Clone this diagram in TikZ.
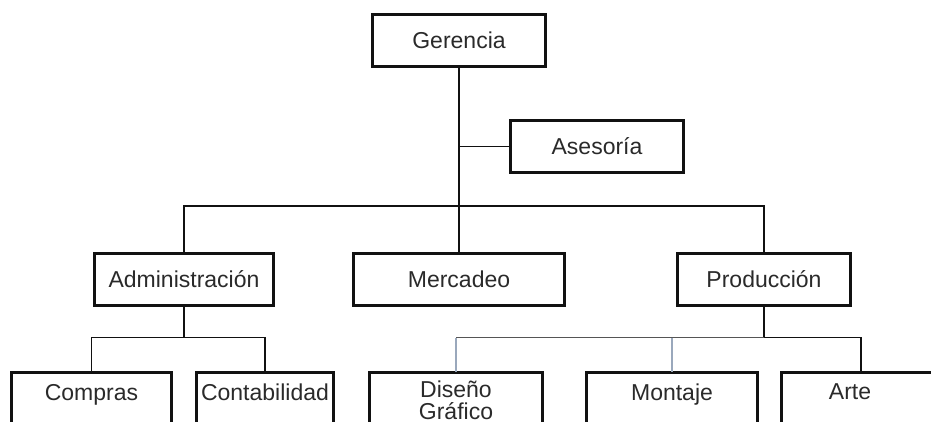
\documentclass[tikz,border=0pt]{standalone}
\usepackage{fontspec}
\setmainfont{Liberation Sans}
\usepackage{xcolor}
\usepackage{tikz}
\usetikzlibrary{positioning,calc}
\definecolor{ink}{HTML}{111111}
\definecolor{txtgray}{HTML}{2A2A2A}
\definecolor{linkgray}{HTML}{555555}
\definecolor{linkblue}{HTML}{9AA8BC}
\tikzset{
  unitbox/.style={
    rectangle, draw=ink, line width=3pt, fill=white,
    minimum width=#1, minimum height=52pt,
    outer sep=0pt, inner sep=0pt,
    font=\fontsize{23}{22}\selectfont, text=txtgray, align=center
  },
  unitbox/.default=173pt,
  lowbox/.style={unitbox=#1, minimum height=0pt, anchor=north,
    inner ysep=12pt, text depth=50pt},
  lowbox/.default=173pt,
  link/.style={draw=ink, line width=1.4pt},
  softlink/.style={draw=linkgray, line width=1.4pt},
  paleline/.style={draw=linkblue, line width=1.1pt},
}

\begin{document}
\begin{tikzpicture}[x=1pt, y=1pt]
    \useasboundingbox (0,0) rectangle (931,-421);
    \clip (0,0) rectangle (931,-421);
    \fill[white] (0,0) rectangle (931,-421);
    % first levels
    \node[unitbox] (ger) at (459,-40.5) {Gerencia};
    \node[unitbox] (ase) at (597,-146.5) {Asesoría};
    \node[unitbox=179pt] (adm) at (184,-279.5) {Administración};
    \node[unitbox=211pt] (mer) at (459,-279.5) {Mercadeo};
    \node[unitbox] (pro) at (764,-279.5) {Producción};
    \coordinate (bus) at (459,-206);
    \draw[link] (ger) -- (mer);
    \draw[link] (ase.west) -- (ase.west -| ger.south);
    \draw[link] (adm.north) |- (bus) -| (pro.north);
    % lower level
    \node[lowbox=160pt] (com) at (91.5,-372) {Compras};
    \node[lowbox=137pt] (con) at (265,-372) {Contabilidad};
    \node[lowbox, inner ysep=9pt] (dis) at (456,-372) {Diseño\\Gráfico};
    \node[lowbox=171pt] (mon) at (672,-372) {Montaje};
    \node[lowbox=160pt] (art) at (861,-372) {\hspace*{-22pt}Arte};
    \draw[link] (adm.south) -- ++(0,-32) coordinate (aj);
    \draw[link] (com.north) |- (aj) -| (con.north);
    \draw[link] (pro.south) -- ++(0,-32) coordinate (pj);
    \draw[link] (pj) -| (art.north);
    \draw[softlink] (pj) -- (pj -| dis.north);
    \draw[paleline] (pj -| dis.north) -- (dis.north);
    \draw[paleline] (pj -| mon.north) -- (mon.north);
\end{tikzpicture}
\end{document}
